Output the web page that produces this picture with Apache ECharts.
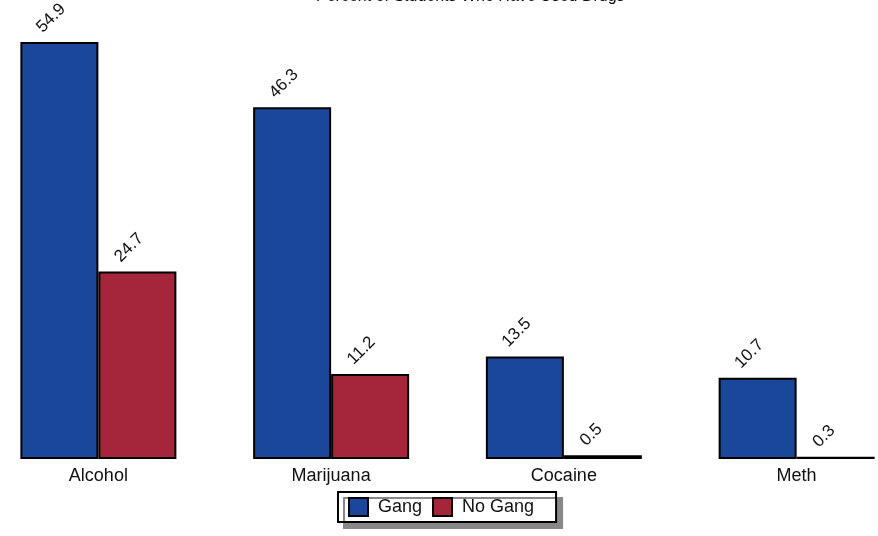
<!DOCTYPE html>
<html>
<head>
<meta charset="utf-8">
<script src="https://cdn.jsdelivr.net/npm/echarts@6/dist/echarts.min.js"></script>
<style>
	html, body { margin: 0; padding: 0; background: #fff; overflow: hidden; }
	/* the original is a crop of a wider drawing, so the chart box hangs past both edges */
	#chart { position: absolute; left: -18px; top: 0; width: 931px; height: 536px; }
</style>
</head>
<body>
<div id="chart"></div>
<script>
const categories = ["Alcohol", "Marijuana", "Cocaine", "Meth"];
const gang = [54.9, 46.3, 13.5, 10.7];
const noGang = [24.7, 11.2, 0.5, 0.3];

const chart = echarts.init(document.getElementById("chart"));

const barLabel = {
	show: true,
	position: [25, -6],
	rotate: 45,
	align: "left",
	verticalAlign: "bottom",
	fontFamily: "Liberation Sans, Arial",
	fontSize: 17,
	color: "#111"
};

const option = {
	animation: false,
	title: {
		text: "Percent of Students Who Have Used Drugs",
		left: 329,
		top: -16,
		textStyle: { fontFamily: "Liberation Sans, Arial", fontSize: 16, fontWeight: "normal", color: "#111" }
	},
	legend: {
		bottom: 14,
		left: 356,
		data: ["Gang", "No Gang"],
		icon: "rect",
		itemWidth: 19,
		itemHeight: 18,
		itemGap: 10,
		padding: [5, 22, 5, 10],
		backgroundColor: "#fff",
		borderColor: "#000",
		borderWidth: 2,
		borderRadius: 0,
		shadowColor: "#888",
		shadowOffsetX: 6,
		shadowOffsetY: 6,
		shadowBlur: 0,
		textStyle: { fontFamily: "Liberation Sans, Arial", fontSize: 18, color: "#111", padding: [0, 0, 0, 5] }
	},
	grid: {
		left: 0,
		right: 0,
		top: 42,
		bottom: 77,
		containLabel: false
	},
	xAxis: {
		type: "category",
		data: categories,
		axisLine: { show: false },
		axisTick: { show: false },
		axisLabel: {
			margin: 8,
			fontFamily: "Liberation Sans, Arial",
			fontSize: 18,
			color: "#111"
		}
	},
	yAxis: {
		type: "value",
		min: 0,
		max: Math.max(...gang, ...noGang),
		show: false,
		splitLine: { show: false }
	},
	series: [
		{
			name: "Gang",
			type: "bar",
			data: gang,
			barWidth: 78,
			barGap: "0%",
			itemStyle: { color: "#1A4799", borderColor: "#000", borderWidth: 2 },
			label: barLabel
		},
		{
			name: "No Gang",
			type: "bar",
			data: noGang,
			barWidth: 78,
			barGap: "0%",
			itemStyle: { color: "#A5263A", borderColor: "#000", borderWidth: 2 },
			label: barLabel
		}
	]
};

chart.setOption(option);
window.onresize = chart.resize;
</script>
</body>
</html>
